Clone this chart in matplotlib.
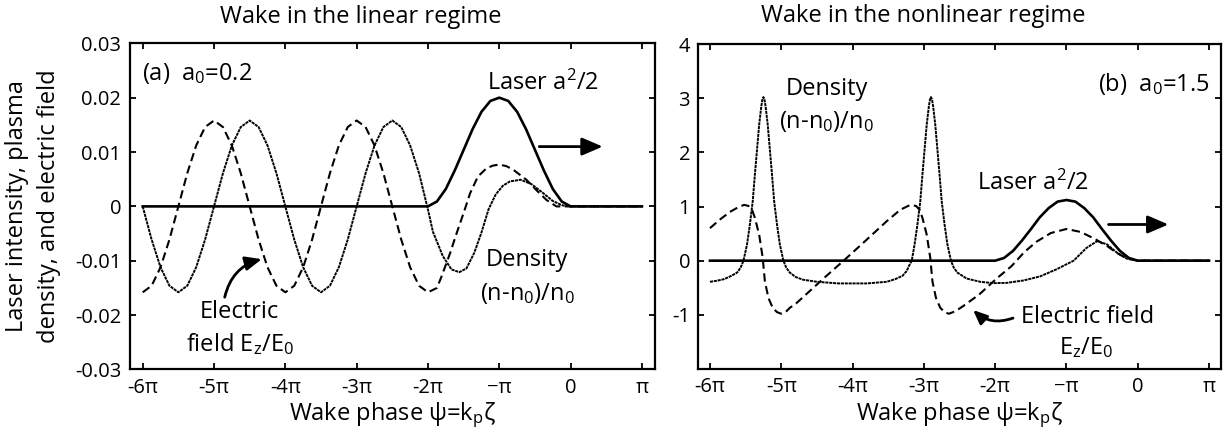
import matplotlib
matplotlib.use("Agg")
import matplotlib.pyplot as plt

plt.rcParams['font.family'] = ['Open Sans', 'DejaVu Sans']
plt.rcParams['mathtext.fontset'] = 'custom'
plt.rcParams['mathtext.rm'] = 'Open Sans'
plt.rcParams['mathtext.it'] = 'Open Sans:italic'

# wake phase in units of pi
tick_pos = [-6, -5, -4, -3, -2, -1, 0, 1]
tick_lbl = ['-6π', '-5π', '-4π', '-3π', '-2π', '\u2212π', '0', 'π']

# ---- linear regime, a0 = 0.2 ----
lin_a_psi = [-6, -2, -1.875, -1.75, -1.625, -1.5, -1.375, -1.25, -1.125, -1,
             -0.875, -0.75, -0.625, -0.5, -0.375, -0.25, -0.125, 0, 1]
lin_a = [0, 0, 0.0009, 0.0032, 0.0066, 0.0104, 0.0142, 0.0174, 0.0194, 0.0200,
         0.0194, 0.0174, 0.0142, 0.0104, 0.0066, 0.0032, 0.0009, 0, 0]

lin_n_psi = [-6, -5.875, -5.75, -5.625, -5.5, -5.375, -5.25, -5.125, -5,
             -4.875, -4.75, -4.625, -4.5, -4.375, -4.25, -4.125, -4,
             -3.875, -3.75, -3.625, -3.5, -3.375, -3.25, -3.125, -3,
             -2.875, -2.75, -2.625, -2.5, -2.375, -2.25, -2.125,
             -2.0, -1.93, -1.79, -1.67, -1.56, -1.46, -1.35, -1.25, -1.15,
             -1.05, -0.95, -0.85, -0.70, -0.55, -0.40, -0.25, -0.12, 0, 1]
lin_n = [0, -0.0061, -0.0112, -0.0146, -0.0158, -0.0146, -0.0112, -0.0061, 0,
         0.0061, 0.0112, 0.0146, 0.0158, 0.0146, 0.0112, 0.0061, 0,
         -0.0061, -0.0112, -0.0146, -0.0158, -0.0146, -0.0112, -0.0061, 0,
         0.0061, 0.0112, 0.0146, 0.0158, 0.0146, 0.0112, 0.0061,
         -0.0006, -0.0047, -0.0092, -0.0116, -0.0121, -0.0114, -0.0085, -0.0048, -0.0005,
         0.0022, 0.0038, 0.0046, 0.0049, 0.0041, 0.0026, 0.0010, 0.0002, 0, 0]

lin_e_psi = [-6, -5.875, -5.75, -5.625, -5.5, -5.375, -5.25, -5.125, -5,
             -4.875, -4.75, -4.625, -4.5, -4.375, -4.25, -4.125, -4,
             -3.875, -3.75, -3.625, -3.5, -3.375, -3.25, -3.125, -3,
             -2.875, -2.75, -2.625, -2.5, -2.375, -2.25, -2.125, -2,
             -1.875, -1.81, -1.69, -1.6, -1.5, -1.41, -1.3, -1.18, -1.09, -1.0,
             -0.9, -0.8, -0.62, -0.48, -0.34, -0.2, 0, 1]
lin_e = [-0.0158, -0.0146, -0.0112, -0.0061, 0, 0.0061, 0.0112, 0.0146, 0.0158,
         0.0146, 0.0112, 0.0061, 0, -0.0061, -0.0112, -0.0146, -0.0158,
         -0.0146, -0.0112, -0.0061, 0, 0.0061, 0.0112, 0.0146, 0.0158,
         0.0146, 0.0112, 0.0061, 0, -0.0061, -0.0112, -0.0146, -0.0158,
         -0.0150, -0.0129, -0.0086, -0.0050, -0.0012, 0.0024, 0.0055, 0.0070, 0.0075, 0.0077,
         0.0074, 0.0067, 0.0049, 0.0030, 0.0012, 0.0, 0, 0]

# ---- nonlinear regime, a0 = 1.5 ----
nl_a_psi = lin_a_psi
nl_a = [0, 0, 0.05, 0.18, 0.37, 0.58, 0.80, 0.97, 1.09, 1.12,
        1.09, 0.97, 0.80, 0.58, 0.37, 0.18, 0.05, 0, 0]

nl_n_psi = [-6.0, -5.9, -5.8, -5.7, -5.62, -5.57, -5.53, -5.48, -5.44, -5.40,
            -5.37, -5.34, -5.31, -5.28, -5.265, -5.25, -5.235, -5.22, -5.19, -5.16,
            -5.13, -5.10, -5.06, -5.02, -4.97, -4.93, -4.88, -4.80, -4.70, -4.50,
            -4.20, -3.80, -3.52, -3.40, -3.30, -3.24, -3.21, -3.17, -3.13, -3.09,
            -3.05, -3.02, -2.99, -2.96, -2.93, -2.915, -2.90, -2.885, -2.87, -2.84,
            -2.81, -2.78, -2.75, -2.71, -2.67, -2.62, -2.58, -2.53, -2.40, -2.21,
            -2.03, -1.84, -1.60, -1.37, -1.14, -0.90, -0.72, -0.57, -0.43, -0.29,
            -0.15, 0, 1]
nl_n = [-0.39, -0.37, -0.34, -0.28, -0.22, -0.13, 0.0, 0.30, 0.67, 1.10,
        1.59, 2.05, 2.51, 2.85, 2.97, 3.02, 2.97, 2.85, 2.51, 2.05,
        1.59, 1.10, 0.67, 0.30, 0.0, -0.13, -0.22, -0.30, -0.35, -0.39,
        -0.42, -0.42, -0.39, -0.34, -0.28, -0.19, -0.10, 0.0, 0.30, 0.67,
        1.10, 1.59, 2.05, 2.51, 2.85, 2.97, 3.02, 2.97, 2.85, 2.51,
        2.05, 1.59, 1.10, 0.67, 0.30, 0.0, -0.13, -0.22, -0.33, -0.39,
        -0.415, -0.41, -0.365, -0.29, -0.16, 0.0, 0.235, 0.36, 0.30, 0.145,
        0.035, 0, 0]

nl_e_psi = [-6.0, -5.86, -5.72, -5.60, -5.52, -5.46, -5.41, -5.37, -5.31, -5.26,
            -5.23, -5.18, -5.12, -5.06, -5.00, -4.94, -4.88, -4.80, -4.40, -4.10,
            -3.80, -3.52, -3.33, -3.19, -3.11, -3.06, -3.02, -2.96, -2.91, -2.88,
            -2.83, -2.77, -2.71, -2.65, -2.59, -2.52, -2.45, -2.22, -1.98, -1.77,
            -1.59, -1.42, -1.22, -1.00, -0.80, -0.60, -0.43, -0.29, -0.15, 0, 1]
nl_e = [0.60, 0.76, 0.90, 0.99, 1.03, 1.01, 0.94, 0.79, 0.48, 0.05,
        -0.38, -0.69, -0.87, -0.95, -0.98, -0.95, -0.87, -0.80, -0.32, 0.03,
        0.39, 0.73, 0.94, 1.03, 1.01, 0.94, 0.79, 0.48, 0.05, -0.38,
        -0.69, -0.87, -0.95, -0.98, -0.95, -0.90, -0.84, -0.62, -0.33, -0.10,
        0.16, 0.35, 0.51, 0.585, 0.53, 0.40, 0.27, 0.14, 0.04, 0, 0]

fig = plt.figure(figsize=(12.31, 4.37), dpi=100)
ax1 = fig.add_axes([0.1052, 0.1545, 0.4266, 0.7464])
ax2 = fig.add_axes([0.5673, 0.1556, 0.4249, 0.7437])

dash = (0, (4, 2.2))
dots = (0, (1.6, 0.4))
head = '-|>,head_length=0.7,head_width=0.3'


def style(ax):
    for s in ax.spines.values():
        s.set_linewidth(1.6)
    ax.tick_params(direction='in', length=4, width=1.3, top=True, right=True,
                   labelsize=14.5, pad=6)
    ax.set_xticks(tick_pos)
    ax.set_xticklabels(tick_lbl)
    ax.set_xlabel(r'Wake phase ψ=k$_{\rm p}$ζ', fontsize=17, labelpad=2)


# linear panel
ax1.plot(lin_e_psi, lin_e, color='black', lw=1.5, ls=dash)
ax1.plot(lin_n_psi, lin_n, color='black', lw=1.4, ls=dots)
ax1.plot(lin_a_psi, lin_a, color='black', lw=1.9)
ax1.set_xlim(-6.185, 1.178)
ax1.set_ylim(-0.03, 0.03)
ax1.set_yticks([-0.03, -0.02, -0.01, 0, 0.01, 0.02, 0.03])
ax1.set_yticklabels(['-0.03', '-0.02', '-0.01', '0', '0.01', '0.02', '0.03'])
style(ax1)
ax1.set_ylabel('Laser intensity, plasma\ndensity, and electric field',
               fontsize=17, labelpad=10, linespacing=1.45)

ax1.text(-6.01, 0.0232, r'(a)  a$_0$=0.2', fontsize=17, va='baseline')
ax1.text(-1.17, 0.0214, r'Laser a$^2$/2', fontsize=17, va='baseline')
ax1.text(-0.61, -0.0110, 'Density', fontsize=17, va='baseline', ha='center')
ax1.text(-0.61, -0.0172, r'(n-n$_0$)/n$_0$', fontsize=17, va='baseline', ha='center')
ax1.text(-4.64, -0.0205, 'Electric', fontsize=17, va='baseline', ha='center')
ax1.text(-4.64, -0.0267, r'field E$_{\rm z}$/E$_0$', fontsize=17, va='baseline', ha='center')
ax1.annotate('', xy=(0.45, 0.0110), xytext=(-0.44, 0.0110),
             arrowprops=dict(arrowstyle=head, color='black', lw=2,
                             mutation_scale=18, shrinkA=0, shrinkB=0))
ax1.annotate('', xy=(-4.33, -0.0097), xytext=(-4.85, -0.0167),
             arrowprops=dict(arrowstyle=head, color='black', lw=2,
                             mutation_scale=14, shrinkA=0, shrinkB=0,
                             connectionstyle='arc3,rad=-0.3'))

# nonlinear panel
ax2.plot(nl_e_psi, nl_e, color='black', lw=1.5, ls=dash)
ax2.plot(nl_n_psi, nl_n, color='black', lw=1.4, ls=dots)
ax2.plot(nl_a_psi, nl_a, color='black', lw=1.9)
ax2.set_xlim(-6.163, 1.173)
ax2.set_ylim(-2, 4)
ax2.set_yticks([-1, 0, 1, 2, 3, 4])
ax2.set_yticklabels(['-1', '0', '1', '2', '3', '4'])
style(ax2)

ax2.text(1.007, 3.13, r'(b)  a$_0$=1.5', fontsize=17, va='baseline', ha='right')
ax2.text(-4.36, 3.06, 'Density', fontsize=17, va='baseline', ha='center')
ax2.text(-4.36, 2.45, r'(n-n$_0$)/n$_0$', fontsize=17, va='baseline', ha='center')
ax2.text(-2.26, 1.31, r'Laser a$^2$/2', fontsize=17, va='baseline')
ax2.text(-0.70, -1.15, 'Electric field', fontsize=17, va='baseline', ha='center')
ax2.text(-0.72, -1.73, r'E$_{\rm z}$/E$_0$', fontsize=17, va='baseline', ha='center')
ax2.annotate('', xy=(0.43, 0.668), xytext=(-0.41, 0.668),
             arrowprops=dict(arrowstyle=head, color='black', lw=2,
                             mutation_scale=18, shrinkA=0, shrinkB=0))
ax2.annotate('', xy=(-2.31, -0.91), xytext=(-1.75, -1.06),
             arrowprops=dict(arrowstyle=head, color='black', lw=2,
                             mutation_scale=12, shrinkA=0, shrinkB=0,
                             connectionstyle='arc3,rad=-0.3'))

fig.text(361 / 1231, 1 - 23 / 437, 'Wake in the linear regime', fontsize=17,
         ha='center', va='baseline')
fig.text(923.5 / 1231, 1 - 22 / 437, 'Wake in the nonlinear regime', fontsize=17,
         ha='center', va='baseline')

fig.savefig('out.png', dpi=100)
